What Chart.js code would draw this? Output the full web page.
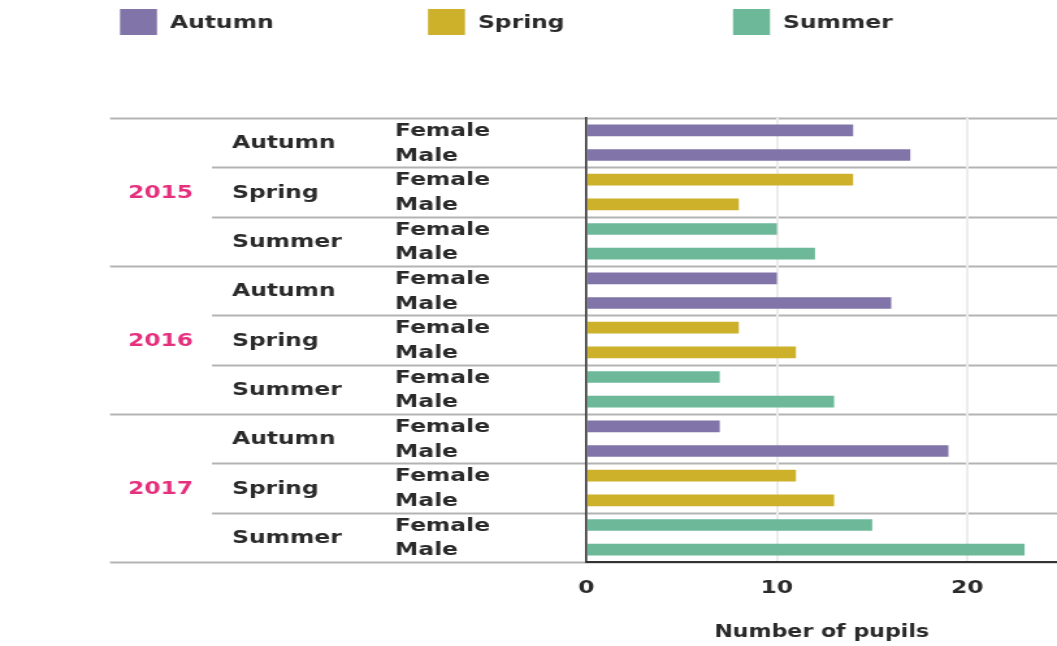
<!DOCTYPE html>
<html>
<head>
<meta charset="utf-8">
<script src="https://cdn.jsdelivr.net/npm/chart.js@4/dist/chart.umd.min.js"></script>
<style>
  html, body { margin: 0; background: #fff; overflow: hidden; }
  /* the reference is stretched sideways, so the canvas is drawn narrow and widened */
  #chart { display: block; transform: scale(1.3001, 1); transform-origin: 0 0; }
</style>
</head>
<body>
<canvas id="chart" width="813" height="646"></canvas>
<script>
const years = ["2015", "2016", "2017"];
const seasons = ["Autumn", "Spring", "Summer"];
const genders = ["Female", "Male"];

// pupils per year, Female then Male
const autumnPupils = [14, 17, 10, 16, 7, 19];
const springPupils = [14, 8, 8, 11, 11, 13];
const summerPupils = [10, 12, 7, 13, 15, 23];

const seasonColors = ["#8174a9", "#cdb12b", "#6cb898"];
const xTicks = [0, 10, 20];

const SX = 1057 / 813;
const FONT = "DejaVu Sans";
const TEXT = "#2a2a2a";

const rowLabels = [];
years.forEach(y => seasons.forEach(s => genders.forEach(g => rowLabels.push(y + " " + s + " " + g))));

const seriesBySeason = [autumnPupils, springPupils, summerPupils];
const datasets = seasons.map((s, si) => {
  const data = rowLabels.map(() => null);
  years.forEach((y, yi) => genders.forEach((g, gi) => {
    data[yi * 6 + si * 2 + gi] = seriesBySeason[si][yi * 2 + gi];
  }));
  return {
    label: s,
    data: data,
    backgroundColor: seasonColors[si],
    barPercentage: 0.94,
    categoryPercentage: 0.5,
  };
});

// row labels, separators and legend
const tablePlugin = {
  id: "table",
  beforeDraw(chart) {
    const { ctx, chartArea } = chart;
    const y = chart.scales.y;
    const edge = k => y.getPixelForValue(k - 0.5);
    ctx.save();
    ctx.strokeStyle = "#b3b3b3";
    ctx.lineWidth = 2;
    for (let k = 0; k <= rowLabels.length; k += 2) {
      const py = Math.round(edge(k)) + 0.5;
      ctx.beginPath();
      ctx.moveTo(k % 6 === 0 ? 110 / SX : 212 / SX, py);
      ctx.lineTo(chartArea.right, py);
      ctx.stroke();
    }

    ctx.font = "bold 18px '" + FONT + "'";
    ctx.textBaseline = "middle";
    ctx.textAlign = "left";
    ctx.fillStyle = TEXT;
    rowLabels.forEach((r, i) => {
      ctx.fillText(genders[i % 2], 395 / SX, y.getPixelForValue(i) + 1);
    });
    for (let k = 0; k < rowLabels.length; k += 2) {
      ctx.fillText(seasons[(k / 2) % 3], 232 / SX, (edge(k) + edge(k + 2)) / 2 + 1);
    }
    ctx.fillStyle = "#e5307e";
    years.forEach((yr, yi) => {
      ctx.fillText(yr, 128 / SX, (edge(yi * 6) + edge(yi * 6 + 6)) / 2 + 1);
    });

    const legendX = [120, 428, 733];
    seasons.forEach((s, si) => {
      ctx.fillStyle = seasonColors[si];
      ctx.fillRect(legendX[si] / SX, 9, 37 / SX, 26);
      ctx.fillStyle = TEXT;
      ctx.fillText(s, (legendX[si] + 50) / SX, 23);
    });
    ctx.restore();
  },
};

new Chart(document.getElementById("chart"), {
  type: "bar",
  data: { labels: rowLabels, datasets: datasets },
  plugins: [tablePlugin],
  options: {
    responsive: false,
    animation: false,
    indexAxis: "y",
    layout: { padding: { left: 576 / SX, top: 118, right: 0, bottom: 0 } },
    plugins: { legend: { display: false }, tooltip: { enabled: false } },
    datasets: { bar: { grouped: false } },
    scales: {
      y: {
        ticks: { display: false },
        grid: { display: false },
        border: { display: true, color: "#333", width: 1.6 },
      },
      x: {
        min: 0,
        max: 24.7,
        afterBuildTicks: s => { s.ticks = xTicks.map(v => ({ value: v })); },
        ticks: { padding: 16, color: TEXT, font: { family: FONT, size: 18, weight: "bold" } },
        grid: { color: "#ececec", lineWidth: 2, drawTicks: false },
        border: { color: "#333", width: 2 },
        title: {
          display: true,
          text: "Number of pupils",
          color: TEXT,
          font: { family: FONT, size: 17, weight: "bold" },
          padding: { top: 7, bottom: 3 },
        },
      },
    },
  },
});
</script>
</body>
</html>
